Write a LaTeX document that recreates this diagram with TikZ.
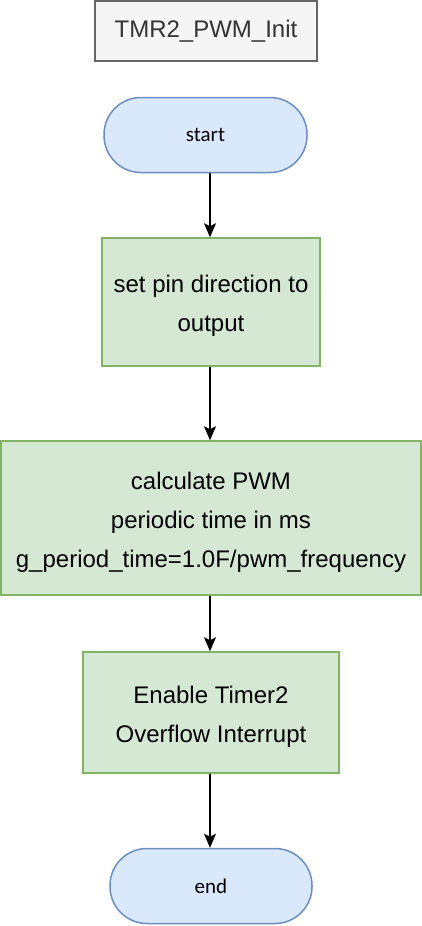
\documentclass[tikz,border=0pt]{standalone}
\usepackage{fontspec}
\setmainfont{Liberation Sans}
\newfontfamily\calib{Carlito}
\usetikzlibrary{arrows.meta}
\definecolor{titlefill}{HTML}{F5F5F5}
\definecolor{titledraw}{HTML}{666666}
\definecolor{titletext}{HTML}{333333}
\definecolor{bluefill}{HTML}{DAE8FC}
\definecolor{bluedraw}{HTML}{6C8EBF}
\definecolor{greenfill}{HTML}{D5E8D4}
\definecolor{greendraw}{HTML}{82B366}
\tikzset{
  titlebox/.style={draw=titledraw, fill=titlefill, line width=1.5pt, text=titletext, font=\fontsize{24}{28}\selectfont, inner sep=0pt},
  term/.style={draw=bluedraw, fill=bluefill, line width=1.5pt, rounded corners=37pt, font=\calib\fontsize{21}{25}\selectfont, inner sep=0pt},
  procbox/.style={draw=greendraw, fill=greenfill, line width=1.5pt, inner sep=0pt},
  proctext/.style={align=center, font=\fontsize{24}{39}\selectfont, inner sep=0pt, yshift=-4pt},
  arr/.style={line width=1.5pt, -{Stealth[length=14pt,width=12pt,inset=3pt]}}
}
\begin{document}
\begin{tikzpicture}[x=1pt,y=-1pt]
\useasboundingbox (0,0) rectangle (422,926);
\node[titlebox, minimum width=222pt, minimum height=60pt] (title) at (206,31) {TMR2\_PWM\_Init};
\node[term, minimum width=203pt, minimum height=75pt] (start) at (205.5,135) {start};
\node[procbox, minimum width=218pt, minimum height=128pt,
  label={[proctext, name=b1t]center:set pin direction to\\output}] (b1) at (211,302) {};
\node[procbox, minimum width=420pt, minimum height=154pt,
  label={[proctext, name=b2t]center:calculate PWM\\periodic time in ms\\g\_period\_time=1.0F/pwm\_frequency}] (b2) at (211,518) {};
\node[procbox, minimum width=256pt, minimum height=121pt,
  label={[proctext, name=b3t]center:Enable Timer2\\Overflow Interrupt}] (b3) at (211,712.5) {};
\node[term, minimum width=202pt, minimum height=75pt] (end) at (211,886) {end};
\draw[arr] (start.south -| 210,0) -- (b1.north -| 210,0);
\draw[arr] (b1.south -| 210,0) -- (b2.north -| 210,0);
\draw[arr] (b2.south -| 210,0) -- (b3.north -| 210,0);
\draw[arr] (b3.south -| 210,0) -- (end.north -| 210,0);
\end{tikzpicture}
\end{document}
